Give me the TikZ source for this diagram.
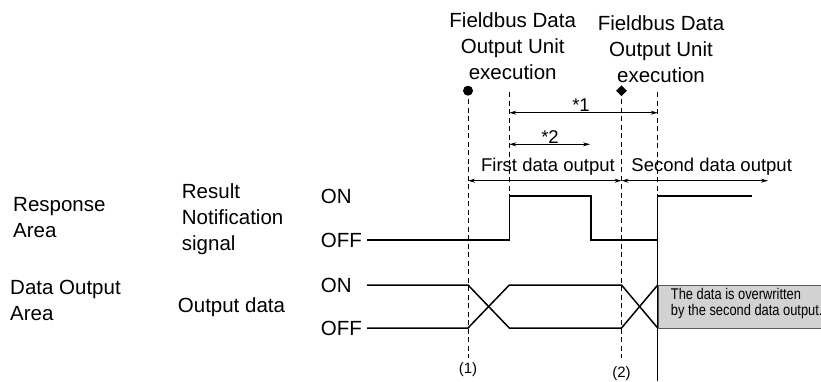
\documentclass[tikz,border=0pt]{standalone}
\usepackage{fontspec}
\setmainfont{Liberation Sans}
\newfontfamily\narrowfont{Liberation Sans}[FakeStretch=0.83]
\usetikzlibrary{arrows.meta,shapes.geometric}

\begin{document}
\begin{tikzpicture}[x=1pt, y=-1pt, >={Stealth[length=7pt,width=4pt]},
    lbl/.style={font=\fontsize{20.5}{26}\selectfont, inner sep=0pt},
    small/.style={font=\fontsize{18.5}{22}\selectfont, inner sep=0pt},
    guide/.style={line width=0.8pt, dash pattern=on 5pt off 3.5pt},
    wave/.style={line width=1.5pt},
    dim/.style={<->, line width=0.8pt}]
        \clip (0,0) rectangle (821,381);

        % Time marks
        \coordinate (t1) at (468,0);
        \coordinate (t2) at (509.3,0);
        \coordinate (t3) at (621.5,0);
        \coordinate (t4) at (657.7,0);

        % Execution labels and markers
        \node[lbl, align=center] (exec1) at (512.7,46) {Fieldbus Data\\Output Unit\\execution};
        \node[lbl, align=center] (exec2) at (661,49) {Fieldbus Data\\Output Unit\\execution};
        \node[circle, fill, inner sep=0pt, minimum size=10pt] (mk1) at (t1 |- 0,90.7) {};
        \node[diamond, fill, inner sep=0pt, minimum size=11pt] (mk2) at (t3 |- 0,90.7) {};

        % Dashed guides
        \draw[guide] (t1 |- 0,99) -- (t1 |- 0,358);
        \draw[guide] (t2 |- 0,92) -- (t2 |- 0,196);
        \draw[guide] (t3 |- 0,99) -- (t3 |- 0,358);
        \draw[guide] (t4 |- 0,92) -- (t4 |- 0,196);

        % Time spans
        \draw[dim] (t2 |- 0,112.7) -- (t4 |- 0,112.7);
        \node[small] (star1) at (581,105) {*1};
        \draw[dim] (t2 |- 0,144.3) -- (590,144.3);
        \node[small] (star2) at (550,136.7) {*2};
        \draw[dim] (t1 |- 0,180.7) -- (t3 |- 0,180.7);
        \draw[dim] (t3 |- 0,180.7) -- (768,180.7);
        \node[small] (out1) at (548,166.7) {First data output};
        \node[small] (out2) at (711.7,166.7) {Second data output};

        % Row labels
        \node[lbl, align=left, anchor=west] (resp) at (13,218) {Response\\Area};
        \node[lbl, align=left, anchor=west] (doa) at (10,300) {Data Output\\Area};
        \node[lbl, align=left, anchor=west] (rns) at (181.7,219) {Result\\Notification\\signal};
        \node[lbl, anchor=west] (odata) at (177.7,306.7) {Output data};
        \node[lbl, anchor=west] (on1) at (320.7,196.7) {ON};
        \node[lbl, anchor=west] (off1) at (320.7,240) {OFF};
        \node[lbl, anchor=west] (on2) at (320.7,285) {ON};
        \node[lbl, anchor=west] (off2) at (320.7,328) {OFF};

        % Result Notification signal
        \draw[wave] (367,240) -- (t2 |- 0,240) -- (t2 |- 0,196) -- (591,196) -- (591,240)
            -- (t4 |- 0,240) -- (t4 |- 0,196) -- (752,196);

        % Overwritten area
        \draw[fill=gray!35, draw=gray!70!black, thin] (t4 |- 0,285) rectangle (830,328);
        \node[anchor=west, align=left, inner sep=0pt, font=\narrowfont\fontsize{15.5}{16.8}\selectfont] (note) at (670.7,303.5)
            {The data is overwritten\\by the second data output.};
        \draw[wave] (t4 |- 0,196) -- (t4 |- 0,381);

        % Output data
        \draw[wave] (367,285) -- (t1 |- 0,285) -- (t2 |- 0,328) -- (t3 |- 0,328) -- (t4 |- 0,285);
        \draw[wave] (367,328) -- (t1 |- 0,328) -- (t2 |- 0,285) -- (t3 |- 0,285) -- (t4 |- 0,328);

        % Points (1) and (2)
        \node[font=\fontsize{15}{17}\selectfont, inner sep=0pt] (p1) at (t1 |- 0,370) {(1)};
        \node[font=\fontsize{15}{17}\selectfont, inner sep=0pt] (p2) at (t3 |- 0,374) {(2)};
\end{tikzpicture}
\end{document}
